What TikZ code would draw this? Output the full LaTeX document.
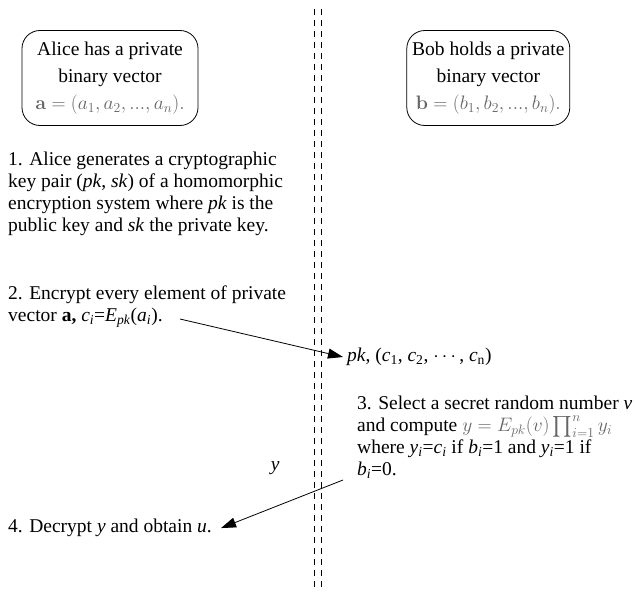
\documentclass[tikz,border=0pt]{standalone}
\usepackage{fix-cm}
\usepackage{exscale}
\usepackage{amsmath}
\usepackage[no-math]{fontspec}
\setmainfont{Liberation Serif}
\usetikzlibrary{positioning,arrows.meta}

\newcommand{\low}[1]{\textsubscript{\textit{#1}}}
\newcommand{\gm}[1]{{\color{black!60}$#1$}}

\begin{document}
\begin{tikzpicture}[x=1pt, y=-1pt,
party/.style={rectangle, rounded corners=18pt, draw=black, line width=0.8pt, align=center, inner sep=1pt, minimum height=95pt, font=\fontsize{19.5}{27}\selectfont},
steptext/.style={anchor=north west, align=left, inner sep=0pt, font=\fontsize{19.5}{22}\selectfont},
msg/.style={-{Triangle[length=15pt,width=10pt]}, line width=0.8pt},
wall/.style={dash pattern=on 6pt off 5pt, line width=0.7pt},
]
\useasboundingbox (0,0) rectangle (636,591);

% the two parties
\node[party, minimum width=176pt](alice) at (110,78) {Alice has a private\\binary vector\\\gm{\mathbf{a}=(a_1,a_2,...,a_n).}};
\node[party, minimum width=163pt](bob)[right=208pt of alice] {Bob holds a private\\binary vector\\\gm{\mathbf{b}=(b_1,b_2,...,b_n).}};

% dashed border between Alice and Bob
\draw[wall] (314,9) -- (314,591);
\draw[wall] (321,9) -- (321,591);

% steps of the protocol
\node[steptext](keygen) at (8,152) {1. Alice generates a cryptographic\\key pair (\textit{pk}, \textit{sk}) of a homomorphic\\encryption system where \textit{pk} is the\\public key and \textit{sk} the private key.};
\node[steptext](encrypt) at (8,286) {2. Encrypt every element of private\\vector \textbf{a,} \textit{c}\low{i}=\textit{E}\low{pk}(\textit{a}\low{i}).};
\node[steptext, anchor=west, inner sep=4pt](cipher) at (343,357) {\textit{pk}, (\textit{c}\textsubscript{1}, \textit{c}\textsubscript{2}, $\cdots$, \textit{c}\textsubscript{n})};
\node[steptext](compute) at (357,396) {3. Select a secret random number \textit{v}\\and compute \smash{\gm{y=E_{pk}(v)\prod_{i=1}^{n}y_i}}\\where \textit{y}\low{i}=\textit{c}\low{i} if \textit{b}\low{i}=1 and \textit{y}\low{i}=1 if\\\textit{b}\low{i}=0.};
\node[steptext](decrypt) at (8,519) {4. Decrypt \textit{y} and obtain \textit{u}.};

% messages
\coordinate (encout) at (180,319);
\coordinate (yout) at (343,480);
\draw[msg] (encout) -- (cipher.west);
\draw[msg] (yout) -- node[pos=0.58, above=29pt, xshift=3pt, font=\fontsize{19.5}{22}\selectfont\itshape]{y} ([xshift=9pt]decrypt.east);

\end{tikzpicture}
\end{document}
